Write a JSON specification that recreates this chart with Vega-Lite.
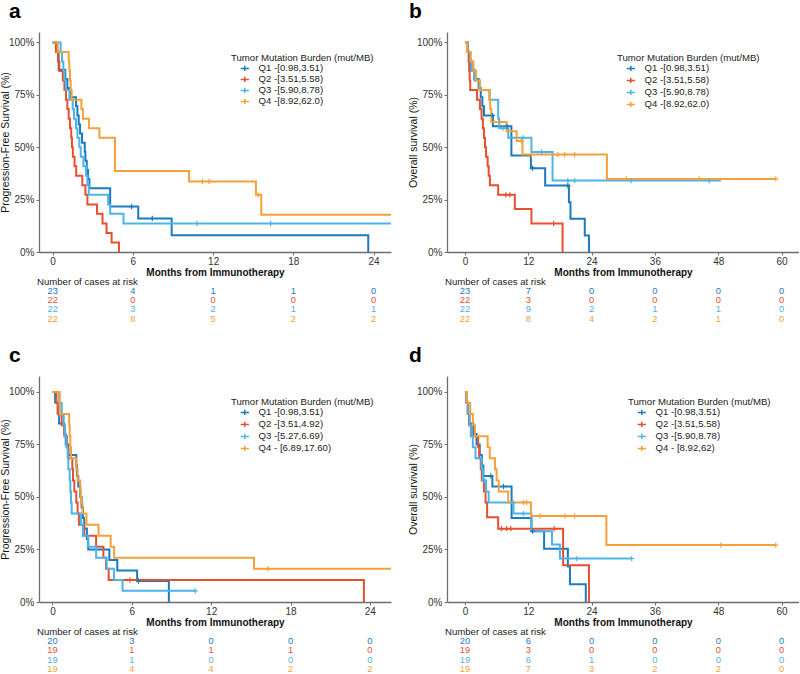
{
"$schema": "https://vega.github.io/schema/vega-lite/v6.json",
"padding": {"left": 0, "top": 1, "right": 0, "bottom": 0},
"autosize": {"type": "pad"},
"bounds": "flush",
"columns": 2,
"spacing": {"row": 34, "column": 56},
"config": {"view": {"stroke": null}, "font": "Liberation Sans",
  "axis": {"grid": false, "domainColor": "#6e6e6e", "domainWidth": 1.3, "tickColor": "#6e6e6e", "tickSize": 3, "labelFontSize": 10, "labelColor": "#333333", "titleColor": "#111111", "titleFontSize": 10.5},
  "legend": {"titleFontWeight": "normal", "titleFontSize": 9.6, "labelFontSize": 9.6, "titleColor": "#222222", "labelColor": "#222222"}},
"datasets": {
"km": [
{"p":"a","g":"Q1","t":0,"s":1},{"p":"a","g":"Q1","t":0.3,"s":0.957},{"p":"a","g":"Q1","t":0.45,"s":0.87},{"p":"a","g":"Q1","t":0.95,"s":0.826},{"p":"a","g":"Q1","t":1.1,"s":0.783},{"p":"a","g":"Q1","t":1.3,"s":0.739},{"p":"a","g":"Q1","t":1.75,"s":0.696},{"p":"a","g":"Q1","t":1.85,"s":0.652},{"p":"a","g":"Q1","t":1.95,"s":0.609},{"p":"a","g":"Q1","t":2.05,"s":0.565},{"p":"a","g":"Q1","t":2.2,"s":0.522},{"p":"a","g":"Q1","t":2.4,"s":0.478},{"p":"a","g":"Q1","t":2.45,"s":0.435},{"p":"a","g":"Q1","t":2.55,"s":0.391},{"p":"a","g":"Q1","t":2.65,"s":0.348},{"p":"a","g":"Q1","t":2.75,"s":0.304},{"p":"a","g":"Q1","t":4.3,"s":0.217},{"p":"a","g":"Q1","t":5.9,"s":0.217,"c":1},{"p":"a","g":"Q1","t":6.4,"s":0.16},{"p":"a","g":"Q1","t":7.45,"s":0.16,"c":1},{"p":"a","g":"Q1","t":8.9,"s":0.08},{"p":"a","g":"Q1","t":23.6,"s":0},
{"p":"a","g":"Q2","t":0,"s":1},{"p":"a","g":"Q2","t":0.25,"s":0.955},{"p":"a","g":"Q2","t":0.4,"s":0.909},{"p":"a","g":"Q2","t":0.5,"s":0.864},{"p":"a","g":"Q2","t":0.76,"s":0.818},{"p":"a","g":"Q2","t":0.88,"s":0.773},{"p":"a","g":"Q2","t":1.0,"s":0.727},{"p":"a","g":"Q2","t":1.1,"s":0.682},{"p":"a","g":"Q2","t":1.2,"s":0.636},{"p":"a","g":"Q2","t":1.3,"s":0.591},{"p":"a","g":"Q2","t":1.39,"s":0.545},{"p":"a","g":"Q2","t":1.45,"s":0.5},{"p":"a","g":"Q2","t":1.51,"s":0.455},{"p":"a","g":"Q2","t":1.64,"s":0.409},{"p":"a","g":"Q2","t":1.76,"s":0.364},{"p":"a","g":"Q2","t":2.22,"s":0.318},{"p":"a","g":"Q2","t":2.45,"s":0.273},{"p":"a","g":"Q2","t":2.6,"s":0.227},{"p":"a","g":"Q2","t":3.32,"s":0.182},{"p":"a","g":"Q2","t":3.73,"s":0.136},{"p":"a","g":"Q2","t":4.03,"s":0.091},{"p":"a","g":"Q2","t":4.41,"s":0.045},{"p":"a","g":"Q2","t":4.96,"s":0},
{"p":"a","g":"Q3","t":0,"s":1},{"p":"a","g":"Q3","t":0.6,"s":0.955},{"p":"a","g":"Q3","t":0.7,"s":0.909},{"p":"a","g":"Q3","t":0.8,"s":0.864},{"p":"a","g":"Q3","t":0.9,"s":0.818},{"p":"a","g":"Q3","t":1.0,"s":0.773},{"p":"a","g":"Q3","t":1.25,"s":0.727},{"p":"a","g":"Q3","t":1.5,"s":0.682},{"p":"a","g":"Q3","t":1.6,"s":0.636},{"p":"a","g":"Q3","t":1.75,"s":0.591},{"p":"a","g":"Q3","t":1.85,"s":0.545},{"p":"a","g":"Q3","t":2.0,"s":0.5},{"p":"a","g":"Q3","t":2.1,"s":0.455},{"p":"a","g":"Q3","t":2.3,"s":0.409},{"p":"a","g":"Q3","t":2.5,"s":0.364},{"p":"a","g":"Q3","t":2.6,"s":0.318},{"p":"a","g":"Q3","t":2.7,"s":0.273},{"p":"a","g":"Q3","t":4.15,"s":0.227},{"p":"a","g":"Q3","t":4.3,"s":0.182},{"p":"a","g":"Q3","t":5.3,"s":0.136},{"p":"a","g":"Q3","t":10.8,"s":0.136,"c":1},{"p":"a","g":"Q3","t":16.3,"s":0.136,"c":1},{"p":"a","g":"Q3","t":25.3,"s":0.136},
{"p":"a","g":"Q4","t":0,"s":1},{"p":"a","g":"Q4","t":0.38,"s":0.955},{"p":"a","g":"Q4","t":1.2,"s":0.909},{"p":"a","g":"Q4","t":1.25,"s":0.864},{"p":"a","g":"Q4","t":1.3,"s":0.818},{"p":"a","g":"Q4","t":1.35,"s":0.773},{"p":"a","g":"Q4","t":1.42,"s":0.727},{"p":"a","g":"Q4","t":2.15,"s":0.682},{"p":"a","g":"Q4","t":2.27,"s":0.636},{"p":"a","g":"Q4","t":2.72,"s":0.591},{"p":"a","g":"Q4","t":3.5,"s":0.545},{"p":"a","g":"Q4","t":4.66,"s":0.386},{"p":"a","g":"Q4","t":10.2,"s":0.337},{"p":"a","g":"Q4","t":11.2,"s":0.337,"c":1},{"p":"a","g":"Q4","t":11.7,"s":0.337,"c":1},{"p":"a","g":"Q4","t":15.2,"s":0.273},{"p":"a","g":"Q4","t":15.37,"s":0.273,"c":1},{"p":"a","g":"Q4","t":15.6,"s":0.178},{"p":"a","g":"Q4","t":25.3,"s":0.178},

{"p":"b","g":"Q1","t":0,"s":1},{"p":"b","g":"Q1","t":0.5,"s":0.957},{"p":"b","g":"Q1","t":0.8,"s":0.913},{"p":"b","g":"Q1","t":1.2,"s":0.87},{"p":"b","g":"Q1","t":1.8,"s":0.826},{"p":"b","g":"Q1","t":2.6,"s":0.783},{"p":"b","g":"Q1","t":3.0,"s":0.739},{"p":"b","g":"Q1","t":3.3,"s":0.696},{"p":"b","g":"Q1","t":3.6,"s":0.652},{"p":"b","g":"Q1","t":5.2,"s":0.652,"c":1},{"p":"b","g":"Q1","t":5.3,"s":0.6},{"p":"b","g":"Q1","t":8.0,"s":0.6,"c":1},{"p":"b","g":"Q1","t":8.8,"s":0.46},{"p":"b","g":"Q1","t":12.5,"s":0.4},{"p":"b","g":"Q1","t":12.8,"s":0.4,"c":1},{"p":"b","g":"Q1","t":15.2,"s":0.317},{"p":"b","g":"Q1","t":19.5,"s":0.317,"c":1},{"p":"b","g":"Q1","t":19.7,"s":0.238},{"p":"b","g":"Q1","t":20.0,"s":0.159},{"p":"b","g":"Q1","t":22.7,"s":0.079},{"p":"b","g":"Q1","t":23.5,"s":0},
{"p":"b","g":"Q2","t":0,"s":1},{"p":"b","g":"Q2","t":0.5,"s":0.955},{"p":"b","g":"Q2","t":0.7,"s":0.909},{"p":"b","g":"Q2","t":0.8,"s":0.864},{"p":"b","g":"Q2","t":0.9,"s":0.818},{"p":"b","g":"Q2","t":1.0,"s":0.773},{"p":"b","g":"Q2","t":2.3,"s":0.727},{"p":"b","g":"Q2","t":2.84,"s":0.682},{"p":"b","g":"Q2","t":3.15,"s":0.636},{"p":"b","g":"Q2","t":3.4,"s":0.591},{"p":"b","g":"Q2","t":3.6,"s":0.545},{"p":"b","g":"Q2","t":3.8,"s":0.5},{"p":"b","g":"Q2","t":4.0,"s":0.455},{"p":"b","g":"Q2","t":4.3,"s":0.409},{"p":"b","g":"Q2","t":4.5,"s":0.364},{"p":"b","g":"Q2","t":4.73,"s":0.318},{"p":"b","g":"Q2","t":6.3,"s":0.273},{"p":"b","g":"Q2","t":7.75,"s":0.273,"c":1},{"p":"b","g":"Q2","t":8.5,"s":0.273,"c":1},{"p":"b","g":"Q2","t":9.45,"s":0.205},{"p":"b","g":"Q2","t":12.6,"s":0.136},{"p":"b","g":"Q2","t":16.8,"s":0.136,"c":1},{"p":"b","g":"Q2","t":18.5,"s":0},
{"p":"b","g":"Q3","t":0,"s":1},{"p":"b","g":"Q3","t":0.5,"s":0.955},{"p":"b","g":"Q3","t":1.0,"s":0.909},{"p":"b","g":"Q3","t":1.3,"s":0.864},{"p":"b","g":"Q3","t":1.8,"s":0.818},{"p":"b","g":"Q3","t":2.8,"s":0.773},{"p":"b","g":"Q3","t":4.7,"s":0.727},{"p":"b","g":"Q3","t":6.3,"s":0.636},{"p":"b","g":"Q3","t":6.5,"s":0.591},{"p":"b","g":"Q3","t":7.2,"s":0.591,"c":1},{"p":"b","g":"Q3","t":8.2,"s":0.545},{"p":"b","g":"Q3","t":11.0,"s":0.545,"c":1},{"p":"b","g":"Q3","t":12.6,"s":0.477},{"p":"b","g":"Q3","t":14.5,"s":0.477,"c":1},{"p":"b","g":"Q3","t":16.6,"s":0.341},{"p":"b","g":"Q3","t":19.5,"s":0.341,"c":1},{"p":"b","g":"Q3","t":20.8,"s":0.341,"c":1},{"p":"b","g":"Q3","t":31.5,"s":0.341,"c":1},{"p":"b","g":"Q3","t":46.3,"s":0.341,"c":1},{"p":"b","g":"Q3","t":48.5,"s":0.341},
{"p":"b","g":"Q4","t":0,"s":1},{"p":"b","g":"Q4","t":0.4,"s":0.955},{"p":"b","g":"Q4","t":1.1,"s":0.909},{"p":"b","g":"Q4","t":1.6,"s":0.864},{"p":"b","g":"Q4","t":2.1,"s":0.818},{"p":"b","g":"Q4","t":2.8,"s":0.773},{"p":"b","g":"Q4","t":4.6,"s":0.727},{"p":"b","g":"Q4","t":4.8,"s":0.682},{"p":"b","g":"Q4","t":5.0,"s":0.62},{"p":"b","g":"Q4","t":7.9,"s":0.576},{"p":"b","g":"Q4","t":9.8,"s":0.53},{"p":"b","g":"Q4","t":10.7,"s":0.53,"c":1},{"p":"b","g":"Q4","t":10.9,"s":0.465},{"p":"b","g":"Q4","t":12.6,"s":0.465,"c":1},{"p":"b","g":"Q4","t":17.6,"s":0.465,"c":1},{"p":"b","g":"Q4","t":18.9,"s":0.465,"c":1},{"p":"b","g":"Q4","t":20.8,"s":0.465,"c":1},{"p":"b","g":"Q4","t":26.9,"s":0.349},{"p":"b","g":"Q4","t":30.6,"s":0.349,"c":1},{"p":"b","g":"Q4","t":44.4,"s":0.349,"c":1},{"p":"b","g":"Q4","t":58.9,"s":0.349,"c":1},

{"p":"c","g":"Q1","t":0,"s":1},{"p":"c","g":"Q1","t":0.2,"s":0.95},{"p":"c","g":"Q1","t":0.4,"s":0.9},{"p":"c","g":"Q1","t":0.5,"s":0.85},{"p":"c","g":"Q1","t":0.9,"s":0.8},{"p":"c","g":"Q1","t":1.0,"s":0.75},{"p":"c","g":"Q1","t":1.2,"s":0.7},{"p":"c","g":"Q1","t":1.8,"s":0.65},{"p":"c","g":"Q1","t":1.85,"s":0.6},{"p":"c","g":"Q1","t":1.95,"s":0.55},{"p":"c","g":"Q1","t":2.1,"s":0.5},{"p":"c","g":"Q1","t":2.2,"s":0.45},{"p":"c","g":"Q1","t":2.3,"s":0.4},{"p":"c","g":"Q1","t":2.4,"s":0.35},{"p":"c","g":"Q1","t":2.6,"s":0.3},{"p":"c","g":"Q1","t":2.7,"s":0.25},{"p":"c","g":"Q1","t":4.3,"s":0.2},{"p":"c","g":"Q1","t":4.9,"s":0.15},{"p":"c","g":"Q1","t":6.4,"s":0.1},{"p":"c","g":"Q1","t":6.5,"s":0.1,"c":1},{"p":"c","g":"Q1","t":8.8,"s":0},
{"p":"c","g":"Q2","t":0,"s":1},{"p":"c","g":"Q2","t":0.3,"s":0.947},{"p":"c","g":"Q2","t":0.4,"s":0.895},{"p":"c","g":"Q2","t":0.7,"s":0.842},{"p":"c","g":"Q2","t":0.9,"s":0.789},{"p":"c","g":"Q2","t":1.1,"s":0.737},{"p":"c","g":"Q2","t":1.2,"s":0.684},{"p":"c","g":"Q2","t":1.5,"s":0.632},{"p":"c","g":"Q2","t":1.55,"s":0.579},{"p":"c","g":"Q2","t":1.65,"s":0.526},{"p":"c","g":"Q2","t":1.8,"s":0.474},{"p":"c","g":"Q2","t":1.9,"s":0.421},{"p":"c","g":"Q2","t":2.0,"s":0.368},{"p":"c","g":"Q2","t":2.4,"s":0.316},{"p":"c","g":"Q2","t":3.3,"s":0.263},{"p":"c","g":"Q2","t":3.85,"s":0.211},{"p":"c","g":"Q2","t":4.05,"s":0.158},{"p":"c","g":"Q2","t":4.25,"s":0.105},{"p":"c","g":"Q2","t":5.85,"s":0.105,"c":1},{"p":"c","g":"Q2","t":23.55,"s":0},
{"p":"c","g":"Q3","t":0,"s":1},{"p":"c","g":"Q3","t":0.5,"s":0.947},{"p":"c","g":"Q3","t":0.7,"s":0.895},{"p":"c","g":"Q3","t":0.85,"s":0.842},{"p":"c","g":"Q3","t":0.95,"s":0.789},{"p":"c","g":"Q3","t":1.05,"s":0.737},{"p":"c","g":"Q3","t":1.15,"s":0.684},{"p":"c","g":"Q3","t":1.2,"s":0.632},{"p":"c","g":"Q3","t":1.3,"s":0.579},{"p":"c","g":"Q3","t":1.35,"s":0.526},{"p":"c","g":"Q3","t":1.4,"s":0.474},{"p":"c","g":"Q3","t":1.45,"s":0.421},{"p":"c","g":"Q3","t":2.15,"s":0.368},{"p":"c","g":"Q3","t":2.3,"s":0.316},{"p":"c","g":"Q3","t":2.7,"s":0.263},{"p":"c","g":"Q3","t":3.3,"s":0.211},{"p":"c","g":"Q3","t":4.1,"s":0.158},{"p":"c","g":"Q3","t":4.66,"s":0.105},{"p":"c","g":"Q3","t":5.3,"s":0.053},{"p":"c","g":"Q3","t":10.8,"s":0.053,"c":1},
{"p":"c","g":"Q4","t":0,"s":1},{"p":"c","g":"Q4","t":0.55,"s":0.895},{"p":"c","g":"Q4","t":1.26,"s":0.842},{"p":"c","g":"Q4","t":1.3,"s":0.789},{"p":"c","g":"Q4","t":1.35,"s":0.737},{"p":"c","g":"Q4","t":1.4,"s":0.684},{"p":"c","g":"Q4","t":1.8,"s":0.632},{"p":"c","g":"Q4","t":1.9,"s":0.579},{"p":"c","g":"Q4","t":2.1,"s":0.526},{"p":"c","g":"Q4","t":2.15,"s":0.474},{"p":"c","g":"Q4","t":2.27,"s":0.421},{"p":"c","g":"Q4","t":2.57,"s":0.368},{"p":"c","g":"Q4","t":3.48,"s":0.316},{"p":"c","g":"Q4","t":4.4,"s":0.263},{"p":"c","g":"Q4","t":4.66,"s":0.211},{"p":"c","g":"Q4","t":15.24,"s":0.158},{"p":"c","g":"Q4","t":16.3,"s":0.158,"c":1},{"p":"c","g":"Q4","t":25.6,"s":0.158},

{"p":"d","g":"Q1","t":0,"s":1},{"p":"d","g":"Q1","t":0.3,"s":0.95},{"p":"d","g":"Q1","t":0.6,"s":0.9},{"p":"d","g":"Q1","t":0.8,"s":0.85},{"p":"d","g":"Q1","t":1.6,"s":0.8},{"p":"d","g":"Q1","t":2.2,"s":0.75},{"p":"d","g":"Q1","t":2.8,"s":0.7},{"p":"d","g":"Q1","t":3.2,"s":0.65},{"p":"d","g":"Q1","t":3.5,"s":0.6},{"p":"d","g":"Q1","t":4.9,"s":0.6,"c":1},{"p":"d","g":"Q1","t":5.2,"s":0.55},{"p":"d","g":"Q1","t":7.3,"s":0.55,"c":1},{"p":"d","g":"Q1","t":8.84,"s":0.4},{"p":"d","g":"Q1","t":12.6,"s":0.337},{"p":"d","g":"Q1","t":12.8,"s":0.337,"c":1},{"p":"d","g":"Q1","t":15.0,"s":0.253},{"p":"d","g":"Q1","t":19.5,"s":0.169},{"p":"d","g":"Q1","t":19.9,"s":0.084},{"p":"d","g":"Q1","t":22.9,"s":0},
{"p":"d","g":"Q2","t":0,"s":1},{"p":"d","g":"Q2","t":0.3,"s":0.947},{"p":"d","g":"Q2","t":0.5,"s":0.895},{"p":"d","g":"Q2","t":0.8,"s":0.842},{"p":"d","g":"Q2","t":1.2,"s":0.789},{"p":"d","g":"Q2","t":2.5,"s":0.737},{"p":"d","g":"Q2","t":2.7,"s":0.684},{"p":"d","g":"Q2","t":3.0,"s":0.632},{"p":"d","g":"Q2","t":3.2,"s":0.579},{"p":"d","g":"Q2","t":3.6,"s":0.526},{"p":"d","g":"Q2","t":3.9,"s":0.474},{"p":"d","g":"Q2","t":4.2,"s":0.404},{"p":"d","g":"Q2","t":6.3,"s":0.349},{"p":"d","g":"Q2","t":6.9,"s":0.349,"c":1},{"p":"d","g":"Q2","t":7.9,"s":0.349,"c":1},{"p":"d","g":"Q2","t":8.7,"s":0.349,"c":1},{"p":"d","g":"Q2","t":16.9,"s":0.349,"c":1},{"p":"d","g":"Q2","t":18.6,"s":0.175},{"p":"d","g":"Q2","t":23.5,"s":0},
{"p":"d","g":"Q3","t":0,"s":1},{"p":"d","g":"Q3","t":0.3,"s":0.947},{"p":"d","g":"Q3","t":0.6,"s":0.895},{"p":"d","g":"Q3","t":0.9,"s":0.842},{"p":"d","g":"Q3","t":1.1,"s":0.789},{"p":"d","g":"Q3","t":1.5,"s":0.737},{"p":"d","g":"Q3","t":2.0,"s":0.684},{"p":"d","g":"Q3","t":3.15,"s":0.632},{"p":"d","g":"Q3","t":3.4,"s":0.579},{"p":"d","g":"Q3","t":3.7,"s":0.579,"c":1},{"p":"d","g":"Q3","t":4.0,"s":0.526},{"p":"d","g":"Q3","t":4.5,"s":0.474},{"p":"d","g":"Q3","t":9.1,"s":0.474,"c":1},{"p":"d","g":"Q3","t":9.2,"s":0.421},{"p":"d","g":"Q3","t":11.1,"s":0.421,"c":1},{"p":"d","g":"Q3","t":12.6,"s":0.337},{"p":"d","g":"Q3","t":16.5,"s":0.274},{"p":"d","g":"Q3","t":18.0,"s":0.207},{"p":"d","g":"Q3","t":21.2,"s":0.207,"c":1},{"p":"d","g":"Q3","t":31.6,"s":0.207,"c":1},
{"p":"d","g":"Q4","t":0,"s":1},{"p":"d","g":"Q4","t":0.4,"s":0.947},{"p":"d","g":"Q4","t":1.0,"s":0.895},{"p":"d","g":"Q4","t":1.5,"s":0.842},{"p":"d","g":"Q4","t":1.9,"s":0.789},{"p":"d","g":"Q4","t":4.3,"s":0.737},{"p":"d","g":"Q4","t":4.7,"s":0.684},{"p":"d","g":"Q4","t":5.7,"s":0.632},{"p":"d","g":"Q4","t":6.0,"s":0.579},{"p":"d","g":"Q4","t":6.4,"s":0.526},{"p":"d","g":"Q4","t":8.2,"s":0.474},{"p":"d","g":"Q4","t":11.1,"s":0.474,"c":1},{"p":"d","g":"Q4","t":11.7,"s":0.474,"c":1},{"p":"d","g":"Q4","t":12.5,"s":0.409},{"p":"d","g":"Q4","t":14.2,"s":0.409,"c":1},{"p":"d","g":"Q4","t":18.95,"s":0.409,"c":1},{"p":"d","g":"Q4","t":20.8,"s":0.409,"c":1},{"p":"d","g":"Q4","t":26.8,"s":0.271},{"p":"d","g":"Q4","t":48.5,"s":0.271,"c":1},{"p":"d","g":"Q4","t":58.9,"s":0.271,"c":1}
],
"risk": [
{"p":"a","g":"Q1","t":0,"n":23},{"p":"a","g":"Q1","t":6,"n":4},{"p":"a","g":"Q1","t":12,"n":1},{"p":"a","g":"Q1","t":18,"n":1},{"p":"a","g":"Q1","t":24,"n":0},
{"p":"a","g":"Q2","t":0,"n":22},{"p":"a","g":"Q2","t":6,"n":0},{"p":"a","g":"Q2","t":12,"n":0},{"p":"a","g":"Q2","t":18,"n":0},{"p":"a","g":"Q2","t":24,"n":0},
{"p":"a","g":"Q3","t":0,"n":22},{"p":"a","g":"Q3","t":6,"n":3},{"p":"a","g":"Q3","t":12,"n":2},{"p":"a","g":"Q3","t":18,"n":1},{"p":"a","g":"Q3","t":24,"n":1},
{"p":"a","g":"Q4","t":0,"n":22},{"p":"a","g":"Q4","t":6,"n":8},{"p":"a","g":"Q4","t":12,"n":5},{"p":"a","g":"Q4","t":18,"n":2},{"p":"a","g":"Q4","t":24,"n":2},
{"p":"b","g":"Q1","t":0,"n":23},{"p":"b","g":"Q1","t":12,"n":7},{"p":"b","g":"Q1","t":24,"n":0},{"p":"b","g":"Q1","t":36,"n":0},{"p":"b","g":"Q1","t":48,"n":0},{"p":"b","g":"Q1","t":60,"n":0},
{"p":"b","g":"Q2","t":0,"n":22},{"p":"b","g":"Q2","t":12,"n":3},{"p":"b","g":"Q2","t":24,"n":0},{"p":"b","g":"Q2","t":36,"n":0},{"p":"b","g":"Q2","t":48,"n":0},{"p":"b","g":"Q2","t":60,"n":0},
{"p":"b","g":"Q3","t":0,"n":22},{"p":"b","g":"Q3","t":12,"n":9},{"p":"b","g":"Q3","t":24,"n":2},{"p":"b","g":"Q3","t":36,"n":1},{"p":"b","g":"Q3","t":48,"n":1},{"p":"b","g":"Q3","t":60,"n":0},
{"p":"b","g":"Q4","t":0,"n":22},{"p":"b","g":"Q4","t":12,"n":8},{"p":"b","g":"Q4","t":24,"n":4},{"p":"b","g":"Q4","t":36,"n":2},{"p":"b","g":"Q4","t":48,"n":1},{"p":"b","g":"Q4","t":60,"n":0},
{"p":"c","g":"Q1","t":0,"n":20},{"p":"c","g":"Q1","t":6,"n":3},{"p":"c","g":"Q1","t":12,"n":0},{"p":"c","g":"Q1","t":18,"n":0},{"p":"c","g":"Q1","t":24,"n":0},
{"p":"c","g":"Q2","t":0,"n":19},{"p":"c","g":"Q2","t":6,"n":1},{"p":"c","g":"Q2","t":12,"n":1},{"p":"c","g":"Q2","t":18,"n":1},{"p":"c","g":"Q2","t":24,"n":0},
{"p":"c","g":"Q3","t":0,"n":19},{"p":"c","g":"Q3","t":6,"n":1},{"p":"c","g":"Q3","t":12,"n":0},{"p":"c","g":"Q3","t":18,"n":0},{"p":"c","g":"Q3","t":24,"n":0},
{"p":"c","g":"Q4","t":0,"n":19},{"p":"c","g":"Q4","t":6,"n":4},{"p":"c","g":"Q4","t":12,"n":4},{"p":"c","g":"Q4","t":18,"n":2},{"p":"c","g":"Q4","t":24,"n":2},
{"p":"d","g":"Q1","t":0,"n":20},{"p":"d","g":"Q1","t":12,"n":6},{"p":"d","g":"Q1","t":24,"n":0},{"p":"d","g":"Q1","t":36,"n":0},{"p":"d","g":"Q1","t":48,"n":0},{"p":"d","g":"Q1","t":60,"n":0},
{"p":"d","g":"Q2","t":0,"n":19},{"p":"d","g":"Q2","t":12,"n":3},{"p":"d","g":"Q2","t":24,"n":0},{"p":"d","g":"Q2","t":36,"n":0},{"p":"d","g":"Q2","t":48,"n":0},{"p":"d","g":"Q2","t":60,"n":0},
{"p":"d","g":"Q3","t":0,"n":19},{"p":"d","g":"Q3","t":12,"n":6},{"p":"d","g":"Q3","t":24,"n":1},{"p":"d","g":"Q3","t":36,"n":0},{"p":"d","g":"Q3","t":48,"n":0},{"p":"d","g":"Q3","t":60,"n":0},
{"p":"d","g":"Q4","t":0,"n":19},{"p":"d","g":"Q4","t":12,"n":7},{"p":"d","g":"Q4","t":24,"n":3},{"p":"d","g":"Q4","t":36,"n":2},{"p":"d","g":"Q4","t":48,"n":2},{"p":"d","g":"Q4","t":60,"n":0}
]
},
"resolve": {"scale": {"x": "independent", "y": "independent", "color": "independent"}, "legend": {"color": "independent"}, "axis": {"x": "independent", "y": "independent"}},
"concat": [
{
 "width": 352, "height": 220,
 "title": {"text": "a", "anchor": "start", "frame": "group", "fontSize": 21, "fontWeight": "bold", "color": "#000000", "dx": -30, "offset": 10},
 "data": {"name": "km"},
 "transform": [{"filter": "datum.p == 'a'"}],
 "encoding": {
  "x": {"field": "t", "type": "quantitative", "scale": {"domain": [-1.02, 25.3], "nice": false, "zero": false}, "axis": {"values": [0, 6, 12, 18, 24], "title": "Months from Immunotherapy", "titleFontWeight": "bold", "titleFontSize": 10, "labelPadding": 1, "titlePadding": 1}},
  "y": {"field": "s", "type": "quantitative", "scale": {"domain": [0, 1.05], "nice": false}, "axis": {"values": [0, 0.25, 0.5, 0.75, 1], "format": ".0%", "title": "Progression-Free Survival (%)", "titleFontWeight": "normal", "titlePadding": -2}},
  "color": {"field": "g", "type": "nominal", "scale": {"domain": ["Q1", "Q2", "Q3", "Q4"], "range": ["#1b7bbf", "#e5502f", "#4cb4e7", "#f5a13b"]},
   "legend": {"orient": "none", "legendX": 192, "legendY": 21, "title": "Tumor Mutation Burden (mut/MB)", "symbolType": "M-1.3,0H1.3M0,-0.8V0.8", "symbolSize": 40, "symbolStrokeWidth": 1.5, "symbolOffset": 9, "labelOffset": 9, "rowPadding": -6.5, "titlePadding": 1,
    "labelExpr": "datum.label == 'Q1' ? 'Q1 -[0.98,3.51)' : datum.label == 'Q2' ? 'Q2 -[3.51,5.58)' : datum.label == 'Q3' ? 'Q3 -[5.90,8.78)' : 'Q4 -[8.92,62.0)'"}}
 },
 "layer": [
  {"mark": {"type": "line", "interpolate": "step-after", "strokeWidth": 2}},
  {"transform": [{"filter": "datum.c == 1"}], "mark": {"type": "point", "shape": "M-1,0H1M0,-1V1", "size": 28, "filled": false, "strokeWidth": 1.2, "opacity": 1}}
 ]
},
{
 "width": 352, "height": 220,
 "title": {"text": "b", "anchor": "start", "frame": "group", "fontSize": 21, "fontWeight": "bold", "color": "#000000", "dx": -38, "offset": 10},
 "data": {"name": "km"},
 "transform": [{"filter": "datum.p == 'b'"}],
 "encoding": {
  "x": {"field": "t", "type": "quantitative", "scale": {"domain": [-3.4, 63.3], "nice": false, "zero": false}, "axis": {"values": [0, 12, 24, 36, 48, 60], "title": "Months from Immunotherapy", "titleFontWeight": "bold", "titleFontSize": 10, "labelPadding": 1, "titlePadding": 1}},
  "y": {"field": "s", "type": "quantitative", "scale": {"domain": [0, 1.05], "nice": false}, "axis": {"values": [0, 0.25, 0.5, 0.75, 1], "format": ".0%", "title": "Overall survival (%)", "titleFontWeight": "normal", "titlePadding": -2}},
  "color": {"field": "g", "type": "nominal", "scale": {"domain": ["Q1", "Q2", "Q3", "Q4"], "range": ["#1b7bbf", "#e5502f", "#4cb4e7", "#f5a13b"]},
   "legend": {"orient": "none", "legendX": 170, "legendY": 21, "title": "Tumor Mutation Burden (mut/MB)", "symbolType": "M-1.3,0H1.3M0,-0.8V0.8", "symbolSize": 40, "symbolStrokeWidth": 1.5, "symbolOffset": 9, "labelOffset": 9, "rowPadding": 0, "titlePadding": 1,
    "labelExpr": "datum.label == 'Q1' ? 'Q1 -[0.98,3.51)' : datum.label == 'Q2' ? 'Q2 -[3.51,5.58)' : datum.label == 'Q3' ? 'Q3 -[5.90,8.78)' : 'Q4 -[8.92,62.0)'"}}
 },
 "layer": [
  {"mark": {"type": "line", "interpolate": "step-after", "strokeWidth": 2}},
  {"transform": [{"filter": "datum.c == 1"}], "mark": {"type": "point", "shape": "M-1,0H1M0,-1V1", "size": 28, "filled": false, "strokeWidth": 1.2, "opacity": 1}}
 ]
},
{
 "width": 352, "height": 56,
 "title": {"text": "Number of cases at risk", "anchor": "start", "frame": "group", "fontSize": 9.6, "fontWeight": "normal", "color": "#222222", "dx": -2, "offset": -0.5},
 "data": {"name": "risk"},
 "transform": [{"filter": "datum.p == 'a'"}],
 "mark": {"type": "text", "fontSize": 9.3},
 "encoding": {
  "x": {"field": "t", "type": "quantitative", "scale": {"domain": [-1.02, 25.3], "nice": false, "zero": false}, "axis": null},
  "y": {"field": "g", "type": "nominal", "scale": {"type": "band", "domain": ["Q1", "Q2", "Q3", "Q4"], "paddingInner": 0, "paddingOuter": 1, "align": 0}, "axis": null},
  "text": {"field": "n", "type": "quantitative"},
  "color": {"field": "g", "type": "nominal", "scale": {"domain": ["Q1", "Q2", "Q3", "Q4"], "range": ["#1b7bbf", "#e5502f", "#4cb4e7", "#f5a13b"]}, "legend": null}
 }
},
{
 "width": 352, "height": 56,
 "title": {"text": "Number of cases at risk", "anchor": "start", "frame": "group", "fontSize": 9.6, "fontWeight": "normal", "color": "#222222", "dx": -2, "offset": -0.5},
 "data": {"name": "risk"},
 "transform": [{"filter": "datum.p == 'b'"}],
 "mark": {"type": "text", "fontSize": 9.3},
 "encoding": {
  "x": {"field": "t", "type": "quantitative", "scale": {"domain": [-3.4, 63.3], "nice": false, "zero": false}, "axis": null},
  "y": {"field": "g", "type": "nominal", "scale": {"type": "band", "domain": ["Q1", "Q2", "Q3", "Q4"], "paddingInner": 0, "paddingOuter": 1, "align": 0}, "axis": null},
  "text": {"field": "n", "type": "quantitative"},
  "color": {"field": "g", "type": "nominal", "scale": {"domain": ["Q1", "Q2", "Q3", "Q4"], "range": ["#1b7bbf", "#e5502f", "#4cb4e7", "#f5a13b"]}, "legend": null}
 }
},
{
 "width": 352, "height": 226,
 "title": {"text": "c", "anchor": "start", "frame": "group", "fontSize": 21, "fontWeight": "bold", "color": "#000000", "dx": -30, "offset": 10},
 "data": {"name": "km"},
 "transform": [{"filter": "datum.p == 'c'"}],
 "encoding": {
  "x": {"field": "t", "type": "quantitative", "scale": {"domain": [-1.02, 25.6], "nice": false, "zero": false}, "axis": {"values": [0, 6, 12, 18, 24], "title": "Months from Immunotherapy", "titleFontWeight": "bold", "titleFontSize": 10, "labelPadding": 1, "titlePadding": 1}},
  "y": {"field": "s", "type": "quantitative", "scale": {"domain": [0, 1.076], "nice": false}, "axis": {"values": [0, 0.25, 0.5, 0.75, 1], "format": ".0%", "title": "Progression-Free Survival (%)", "titleFontWeight": "normal", "titlePadding": -2}},
  "color": {"field": "g", "type": "nominal", "scale": {"domain": ["Q1", "Q2", "Q3", "Q4"], "range": ["#1b7bbf", "#e5502f", "#4cb4e7", "#f5a13b"]},
   "legend": {"orient": "none", "legendX": 192, "legendY": 21, "title": "Tumor Mutation Burden (mut/MB)", "symbolType": "M-1.3,0H1.3M0,-0.8V0.8", "symbolSize": 40, "symbolStrokeWidth": 1.5, "symbolOffset": 9, "labelOffset": 9, "rowPadding": 0, "titlePadding": 1,
    "labelExpr": "datum.label == 'Q1' ? 'Q1 -[0.98,3.51)' : datum.label == 'Q2' ? 'Q2 -[3.51,4.92)' : datum.label == 'Q3' ? 'Q3 -[5.27,6.69)' : 'Q4 - [6.89,17.60)'"}}
 },
 "layer": [
  {"mark": {"type": "line", "interpolate": "step-after", "strokeWidth": 2}},
  {"transform": [{"filter": "datum.c == 1"}], "mark": {"type": "point", "shape": "M-1,0H1M0,-1V1", "size": 28, "filled": false, "strokeWidth": 1.2, "opacity": 1}}
 ]
},
{
 "width": 352, "height": 226,
 "title": {"text": "d", "anchor": "start", "frame": "group", "fontSize": 21, "fontWeight": "bold", "color": "#000000", "dx": -38, "offset": 10},
 "data": {"name": "km"},
 "transform": [{"filter": "datum.p == 'd'"}],
 "encoding": {
  "x": {"field": "t", "type": "quantitative", "scale": {"domain": [-3.4, 63.3], "nice": false, "zero": false}, "axis": {"values": [0, 12, 24, 36, 48, 60], "title": "Months from Immunotherapy", "titleFontWeight": "bold", "titleFontSize": 10, "labelPadding": 1, "titlePadding": 1}},
  "y": {"field": "s", "type": "quantitative", "scale": {"domain": [0, 1.076], "nice": false}, "axis": {"values": [0, 0.25, 0.5, 0.75, 1], "format": ".0%", "title": "Overall survival (%)", "titleFontWeight": "normal", "titlePadding": -2}},
  "color": {"field": "g", "type": "nominal", "scale": {"domain": ["Q1", "Q2", "Q3", "Q4"], "range": ["#1b7bbf", "#e5502f", "#4cb4e7", "#f5a13b"]},
   "legend": {"orient": "none", "legendX": 181, "legendY": 21, "title": "Tumor Mutation Burden (mut/MB)", "symbolType": "M-1.3,0H1.3M0,-0.8V0.8", "symbolSize": 40, "symbolStrokeWidth": 1.5, "symbolOffset": 9, "labelOffset": 9, "rowPadding": 0, "titlePadding": 1,
    "labelExpr": "datum.label == 'Q1' ? 'Q1 -[0.98,3.51)' : datum.label == 'Q2' ? 'Q2 -[3.51,5.58)' : datum.label == 'Q3' ? 'Q3 -[5.90,8.78)' : 'Q4 - [8.92,62)'"}}
 },
 "layer": [
  {"mark": {"type": "line", "interpolate": "step-after", "strokeWidth": 2}},
  {"transform": [{"filter": "datum.c == 1"}], "mark": {"type": "point", "shape": "M-1,0H1M0,-1V1", "size": 28, "filled": false, "strokeWidth": 1.2, "opacity": 1}}
 ]
},
{
 "width": 352, "height": 38,
 "title": {"text": "Number of cases at risk", "anchor": "start", "frame": "group", "fontSize": 9.6, "fontWeight": "normal", "color": "#222222", "dx": -2, "offset": -0.5},
 "data": {"name": "risk"},
 "transform": [{"filter": "datum.p == 'c'"}],
 "mark": {"type": "text", "fontSize": 9.3},
 "encoding": {
  "x": {"field": "t", "type": "quantitative", "scale": {"domain": [-1.02, 25.6], "nice": false, "zero": false}, "axis": null},
  "y": {"field": "g", "type": "nominal", "scale": {"type": "band", "domain": ["Q1", "Q2", "Q3", "Q4"], "paddingInner": 0, "paddingOuter": 0}, "axis": null},
  "text": {"field": "n", "type": "quantitative"},
  "color": {"field": "g", "type": "nominal", "scale": {"domain": ["Q1", "Q2", "Q3", "Q4"], "range": ["#1b7bbf", "#e5502f", "#4cb4e7", "#f5a13b"]}, "legend": null}
 }
},
{
 "width": 352, "height": 38,
 "title": {"text": "Number of cases at risk", "anchor": "start", "frame": "group", "fontSize": 9.6, "fontWeight": "normal", "color": "#222222", "dx": -2, "offset": -0.5},
 "data": {"name": "risk"},
 "transform": [{"filter": "datum.p == 'd'"}],
 "mark": {"type": "text", "fontSize": 9.3},
 "encoding": {
  "x": {"field": "t", "type": "quantitative", "scale": {"domain": [-3.4, 63.3], "nice": false, "zero": false}, "axis": null},
  "y": {"field": "g", "type": "nominal", "scale": {"type": "band", "domain": ["Q1", "Q2", "Q3", "Q4"], "paddingInner": 0, "paddingOuter": 0}, "axis": null},
  "text": {"field": "n", "type": "quantitative"},
  "color": {"field": "g", "type": "nominal", "scale": {"domain": ["Q1", "Q2", "Q3", "Q4"], "range": ["#1b7bbf", "#e5502f", "#4cb4e7", "#f5a13b"]}, "legend": null}
 }
}
]
}
